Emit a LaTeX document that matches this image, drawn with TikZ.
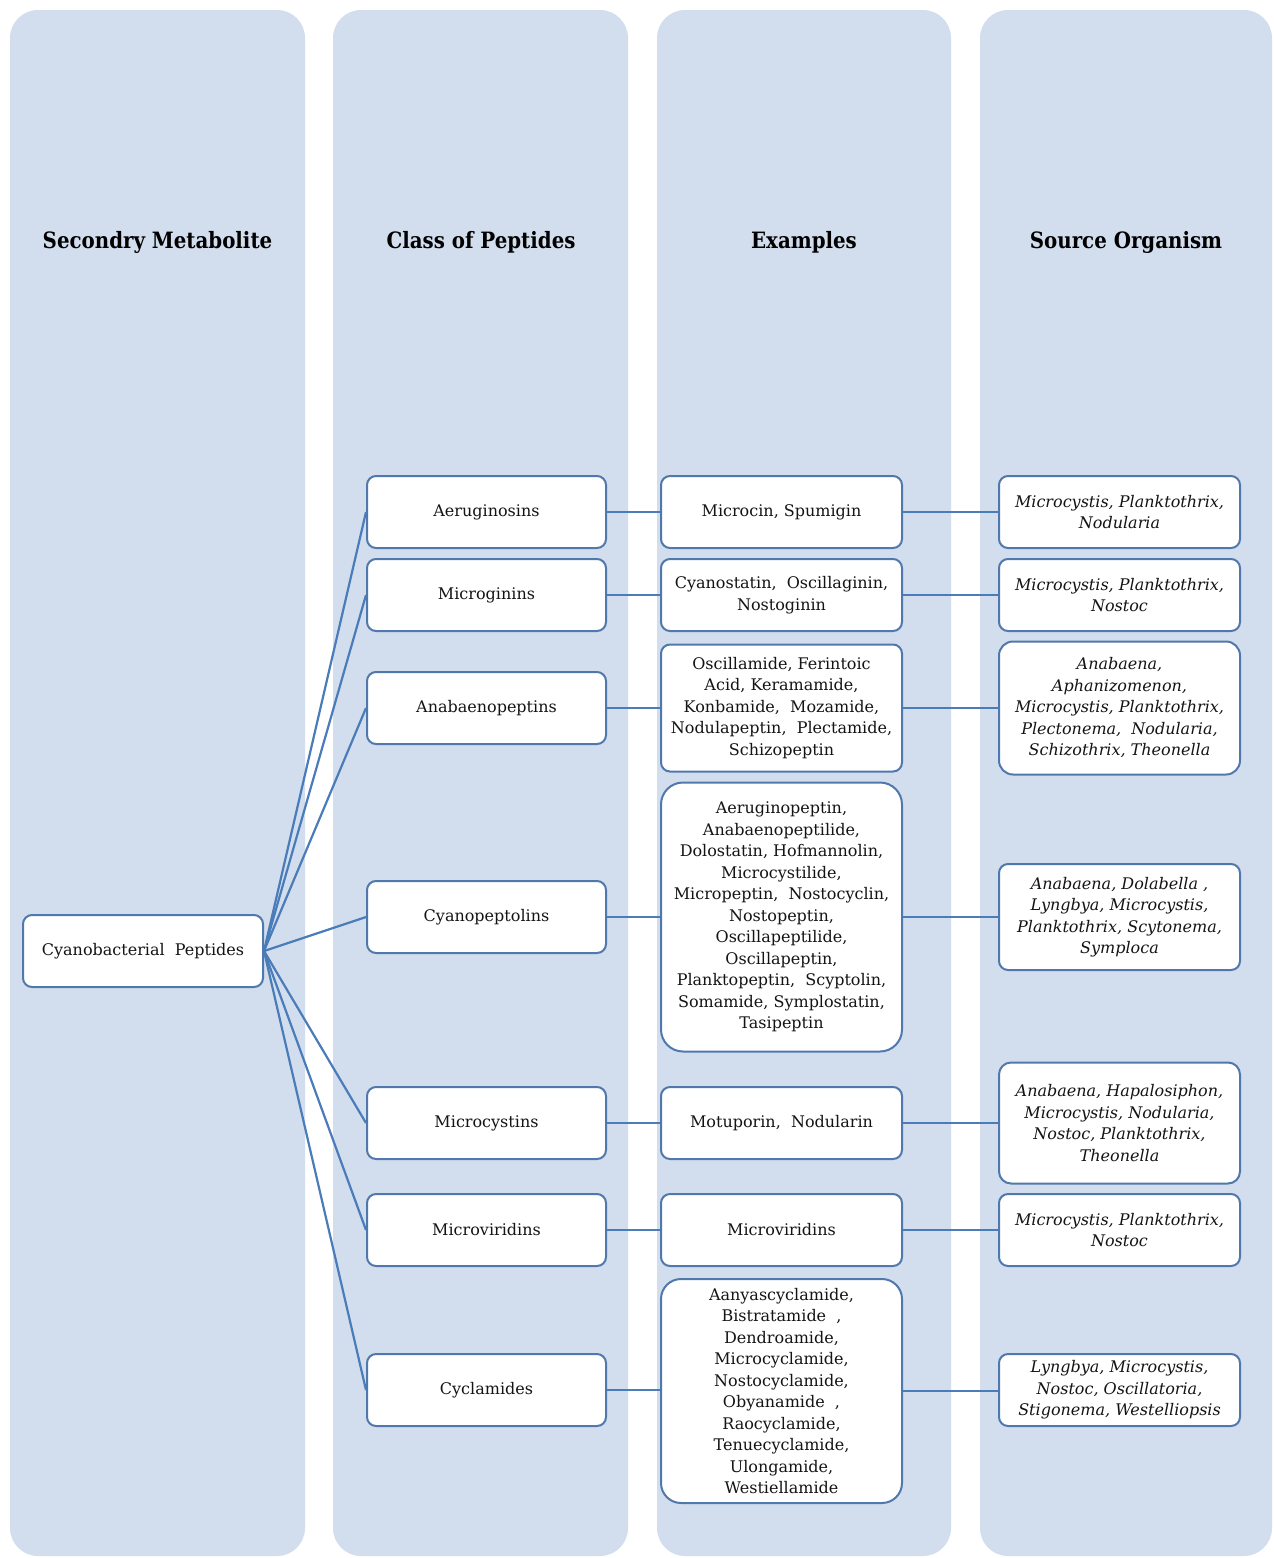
\documentclass[tikz,border=0pt]{standalone}
\usepackage{fontspec}
\setmainfont{DejaVu Serif}
\newfontfamily\hdrfont[FakeStretch=0.88]{DejaVu Serif}
\definecolor{colfill}{RGB}{210,222,238}
\definecolor{lineblue}{RGB}{74,124,185}
\definecolor{boxline}{RGB}{80,120,172}
\begin{document}
\begin{tikzpicture}[x=1pt,y=-1pt,
  colbg/.style={fill=colfill, draw=none, rounded corners=28pt},
  hdr/.style={font=\hdrfont\fontsize{22.5}{26}\selectfont\bfseries, text=black},
  box/.style={draw=boxline, line width=2pt, fill=white, rounded corners=9pt,
    align=center, inner sep=0pt, font=\fontsize{16}{21.5}\selectfont, text=black!92},
  w2/.style={minimum width=239pt},
  w3/.style={minimum width=241pt},
  src/.style={font=\fontsize{16}{21.5}\selectfont\itshape},
  conn/.style={draw=lineblue, line width=2.2pt}]
\useasboundingbox (0,0) rectangle (1274,1558);
\fill[white] (0,0) rectangle (1274,1558);
% columns
\fill[colbg] (10,10) rectangle (305,1556);
\fill[colbg] (333,10) rectangle (628,1556);
\fill[colbg] (657,10) rectangle (951,1556);
\fill[colbg] (980,10) rectangle (1272,1556);
% headers
\node[hdr] (h1) at (157.5,242) {Secondry Metabolite};
\node[hdr] (h2) at (481,242) {Class of Peptides};
\node[hdr] (h3) at (804,242) {Examples};
\node[hdr] (h4) at (1126,242) {Source Organism};
% root
\node[box, minimum width=240pt, minimum height=72pt] (root) at (143,951) {Cyanobacterial\ \ Peptides};
% classes
\node[box,w2,minimum height=72pt] (c1) at (486.5,512) {Aeruginosins};
\node[box,w2,minimum height=72pt] (c2) at (486.5,595) {Microginins};
\node[box,w2,minimum height=72pt] (c3) at (486.5,708) {Anabaenopeptins};
\node[box,w2,minimum height=72pt] (c4) at (486.5,917) {Cyanopeptolins};
\node[box,w2,minimum height=72pt] (c5) at (486.5,1123) {Microcystins};
\node[box,w2,minimum height=72pt] (c6) at (486.5,1230) {Microviridins};
\node[box,w2,minimum height=72pt] (c7) at (486.5,1390) {Cyclamides};
% examples
\node[box,w3,minimum height=72pt] (e1) at (781.5,512) {Microcin, Spumigin};
\node[box,w3,minimum height=72pt] (e2) at (781.5,595) {Cyanostatin,\ \ Oscillaginin,\\ Nostoginin};
\node[box,w3,minimum height=127pt] (e3) at (781.5,708) {Oscillamide, Ferintoic\\ Acid, Keramamide,\\ Konbamide,\ \ Mozamide,\\ Nodulapeptin,\ \ Plectamide,\\ Schizopeptin};
\node[box,w3,minimum height=269pt,rounded corners=22pt] (e4) at (781.5,917) {Aeruginopeptin,\\ Anabaenopeptilide,\\ Dolostatin, Hofmannolin,\\ Microcystilide,\\ Micropeptin,\ \ Nostocyclin,\\ Nostopeptin,\\ Oscillapeptilide,\\ Oscillapeptin,\\ Planktopeptin,\ \ Scyptolin,\\ Somamide, Symplostatin,\\ Tasipeptin};
\node[box,w3,minimum height=72pt] (e5) at (781.5,1123) {Motuporin,\ \ Nodularin};
\node[box,w3,minimum height=72pt] (e6) at (781.5,1230) {Microviridins};
\node[box,w3,minimum height=224pt,rounded corners=20pt] (e7) at (781.5,1391) {Aanyascyclamide,\\ Bistratamide\ \ ,\\ Dendroamide,\\ Microcyclamide,\\ Nostocyclamide,\\ Obyanamide\ \ ,\\ Raocyclamide,\\ Tenuecyclamide,\\ Ulongamide,\\ Westiellamide};
% sources
\node[box,src,w3,minimum height=72pt] (s1) at (1119.5,512) {Microcystis, Planktothrix,\\ Nodularia};
\node[box,src,w3,minimum height=72pt] (s2) at (1119.5,595) {Microcystis, Planktothrix,\\ Nostoc};
\node[box,src,w3,minimum height=133pt,rounded corners=14pt] (s3) at (1119.5,708) {Anabaena,\\ Aphanizomenon,\\ Microcystis, Planktothrix,\\ Plectonema,\ \ Nodularia,\\ Schizothrix, Theonella};
\node[box,src,w3,minimum height=106pt] (s4) at (1119.5,917) {Anabaena, Dolabella\ ,\\ Lyngbya, Microcystis,\\ Planktothrix, Scytonema,\\ Symploca};
\node[box,src,w3,minimum height=121pt,rounded corners=12pt] (s5) at (1119.5,1123) {Anabaena, Hapalosiphon,\\ Microcystis, Nodularia,\\ Nostoc, Planktothrix,\\ Theonella};
\node[box,src,w3,minimum height=72pt] (s6) at (1119.5,1230) {Microcystis, Planktothrix,\\ Nostoc};
\node[box,src,w3,minimum height=72pt] (s7) at (1119.5,1390) {Lyngbya, Microcystis,\\ Nostoc, Oscillatoria,\\ Stigonema, Westelliopsis};
% connectors
\foreach \i in {1,...,7} {
  \draw[conn] (root.east) -- (c\i.west);
  \draw[conn] (c\i.east) -- (c\i.east -| e\i.west);
  \draw[conn] (e\i.east) -- (e\i.east -| s\i.west);
}
\end{tikzpicture}
\end{document}
